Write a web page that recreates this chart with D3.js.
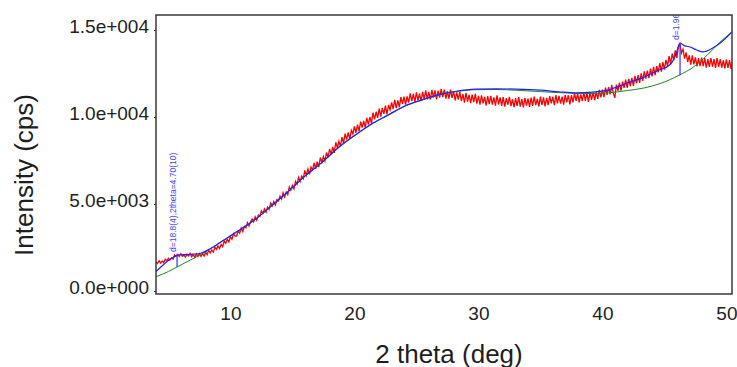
<!DOCTYPE html>
<html>
<head>
	<meta charset="utf-8">
	<title>xrd-pattern</title>
	<script type="text/javascript" src="https://cdnjs.cloudflare.com/ajax/libs/d3/7.8.5/d3.min.js"></script>
	<style type="text/css">
		body{ margin: 0; background-color: #fff; }
		svg{ display: block; font-family: "Liberation Sans", Arial, sans-serif; }
	</style>
</head>
<body>
	<div id="chart"></div>
	<script type="text/javascript">
		// measured pattern: 2theta starts at 4.000 deg, step 0.125 deg (one row = one degree)
		var obsStart = 4.0, obsStep = 0.125;
		var observed = [
			1660, 1585, 1740, 1605, 1720, 1635, 1820, 1745,
			1880, 1780, 1910, 1835, 2070, 1990, 2110, 1980,
			2140, 2000, 2070, 1950, 2120, 2020, 2160, 1970,
			2090, 1940, 2130, 1990, 2150, 1985, 2150, 2005,
			2220, 2090, 2350, 2195, 2360, 2235, 2520, 2395,
			2590, 2440, 2680, 2545, 2880, 2740, 2970, 2825,
			3120, 2980, 3290, 3150, 3150, 3445, 3330, 3620,
			3410, 3715, 3630, 3935, 3740, 3985, 4130, 3975,
			4260, 4075, 4370, 4285, 4610, 4465, 4720, 4535,
			4830, 4690, 5060, 4890, 5140, 4935, 5250, 5180,
			5450, 5280, 5650, 5400, 5680, 5535, 5990, 5790,
			6070, 5865, 6300, 6140, 6530, 6285, 6600, 6455,
			6930, 6650, 7010, 6710, 7120, 6955, 7360, 7020,
			7430, 7120, 7670, 7395, 7730, 7470, 7960, 7680,
			8170, 7840, 8280, 7935, 8550, 8230, 8610, 8315,
			8840, 8495, 9040, 8695, 9110, 8725, 9240, 9025,
			9460, 9095, 9560, 9180, 9730, 9395, 9780, 9400,
			9950, 9565, 10010, 9630, 10250, 9865, 10300, 9950,
			10480, 10020, 10510, 10180, 10660, 10170, 10690, 10410,
			10840, 10455, 10990, 10505, 10950, 10560, 11140, 10755,
			11170, 10705, 11190, 10825, 11360, 10915, 11330, 10875,
			11410, 10955, 11350, 10910, 11440, 11025, 11530, 11010,
			11450, 11005, 11560, 11110, 11530, 11015, 11520, 11120,
			11620, 11140, 11570, 11055, 11480, 11060, 11570, 11095,
			11480, 10950, 11410, 11005, 11440, 10920, 11310, 10820,
			11380, 10880, 11270, 10795, 11290, 10860, 11330, 10765,
			11210, 10705, 11250, 10785, 11160, 10660, 11200, 10735,
			11220, 10715, 11130, 10655, 11240, 10720, 11130, 10645,
			11140, 10595, 11090, 10705, 11160, 10620, 11020, 10565,
			11080, 10640, 11140, 10590, 11030, 10550, 11100, 10660,
			11050, 10575, 11120, 10645, 11170, 10680, 11040, 10605,
			11170, 10690, 11130, 10610, 11100, 10685, 11200, 10780,
			11160, 10685, 11260, 10780, 11220, 10765, 11170, 10715,
			11260, 10835, 11250, 10730, 11250, 10835, 11370, 10920,
			11340, 10845, 11300, 10920, 11410, 10925, 11370, 10865,
			11420, 10985, 11410, 10975, 11430, 11045, 11560, 11125,
			11580, 11140, 11690, 11270, 11720, 11295, 11840, 11380,
			11100, 11860, 11500, 11975, 11520, 12030, 11670, 12145,
			11680, 12190, 11780, 12245, 11790, 12370, 11940, 12405,
			11960, 12505, 12080, 12625, 12200, 12670, 12230, 12775,
			12340, 12880, 12400, 12930, 12560, 13100, 12610, 13160,
			12720, 13285, 12920, 13500, 13040, 13645, 13260, 13825,
			13400, 14020, 14200, 13670, 13900, 13350, 13710, 13160,
			13540, 13015, 13540, 13025, 13430, 12905, 13380, 12920,
			13420, 12925, 13390, 12840, 13320, 12875, 13390, 12895,
			13330, 12825, 13390, 12885, 13330, 12840, 13250, 12795,
			13310, 12820, 13270, 12765, 13200
		];

		// calculated profile (blue)
		var calcTheta = [4.0, 4.5, 5.0, 5.5, 5.7, 6.2, 7.0, 7.6, 8.3, 9.4, 10.5, 12.06, 13.4, 14.7, 16.0, 17.47,
			18.8, 20.13, 21.5, 22.8, 24.1, 25.5, 26.9, 28.2, 29.8, 31.5, 33.0, 35.0, 36.5, 37.8, 39.2, 40.5,
			41.8, 43.3, 44.4, 45.45, 45.9, 46.26, 46.6, 47.06, 47.6, 48.1, 48.9, 49.6, 50.45];
		var calcInt = [1110, 1450, 1750, 1980, 2070, 2090, 2120, 2170, 2400, 2900, 3400, 4150, 4950, 5750, 6600, 7450,
			8300, 9000, 9650, 10150, 10650, 11000, 11300, 11480, 11600, 11620, 11600, 11540, 11450, 11390, 11430, 11560,
			11900, 12280, 12650, 13000, 13550, 14250, 14100, 14020, 13850, 13740, 13970, 14310, 14890];

		// background (green)
		var bgTheta = [4.0, 4.5, 5.0, 5.7, 6.5, 7.5, 8.3, 9.4, 10.5, 12.06, 13.4, 14.7, 16.0, 17.47, 18.8, 20.13,
			21.5, 22.8, 24.1, 25.5, 26.9, 28.2, 29.8, 31.5, 33.0, 35.0, 36.5, 37.8, 39.2, 40.5, 42.0, 43.3,
			44.65, 46.18, 47.4, 48.44, 49.48, 50.45];
		var bgInt = [820, 960, 1120, 1380, 1680, 2050, 2380, 2880, 3380, 4130, 4930, 5730, 6580, 7430, 8280, 8980,
			9630, 10130, 10630, 10980, 11290, 11460, 11570, 11580, 11540, 11460, 11400, 11360, 11350, 11390, 11520, 11660,
			11920, 12400, 12900, 13550, 14300, 14890];

		// peak markers
		var peakTheta = [5.7, 46.26];
		var peakTop = [2070, 14250];
		var peakBase = [1380, 12400];
		var peakLabels = ["d=18.8(4),2theta=4.70(10)", "d=1.961(5),2theta=46.26(12)"];

		var xTicks = [10, 20, 30, 40, 50];
		var yTicks = [0, 5000, 10000, 15000];
		var xTitle = "2 theta (deg)", yTitle = "Intensity (cps)";

		var W = 737, H = 367;
		var plot = {left: 156, top: 15, right: 732, bottom: 294};

		var svg = d3.select('#chart').append('svg')
			.attr('width', W).attr('height', H);

		var x = d3.scaleLinear().domain([4, 50.45]).range([plot.left, plot.right]);
		var y = d3.scaleLinear().domain([-172, 15862]).range([plot.bottom, plot.top]);

		svg.append('defs').append('clipPath').attr('id', 'clip')
			.append('rect')
			.attr('x', plot.left).attr('y', plot.top)
			.attr('width', plot.right - plot.left).attr('height', plot.bottom - plot.top);

		var g = svg.append('g').attr('clip-path', 'url(#clip)');

		var obsData = observed.map(function(v, i){ return [obsStart + i*obsStep, v]; });
		var calcData = calcTheta.map(function(t, i){ return [t, calcInt[i]]; });
		var bgData = bgTheta.map(function(t, i){ return [t, bgInt[i]]; });

		var straight = d3.line().x(function(d){ return x(d[0]); }).y(function(d){ return y(d[1]); });
		var smooth = d3.line().curve(d3.curveMonotoneX)
			.x(function(d){ return x(d[0]); }).y(function(d){ return y(d[1]); });

		g.append('path').datum(obsData)
			.attr('d', straight)
			.attr('fill', 'none').attr('stroke', '#ff0000').attr('stroke-width', 1.3);

		g.append('path').datum(bgData)
			.attr('d', smooth)
			.attr('fill', 'none').attr('stroke', '#1a8a1a').attr('stroke-width', 1);

		g.append('path').datum(calcData)
			.attr('d', smooth)
			.attr('fill', 'none').attr('stroke', '#2020ff').attr('stroke-width', 1.2);

		// peak sticks and labels
		g.selectAll('line.peak').data(peakTheta).enter().append('line')
			.attr('class', 'peak')
			.attr('x1', function(d){ return x(d); }).attr('x2', function(d){ return x(d); })
			.attr('y1', function(d, i){ return y(peakTop[i]); })
			.attr('y2', function(d, i){ return y(peakBase[i]); })
			.attr('stroke', '#3030ff').attr('stroke-width', 1.2);

		g.selectAll('text.peak').data(peakTheta).enter().append('text')
			.attr('class', 'peak')
			.attr('transform', function(d, i){
				return 'translate(' + (x(d) - 1) + ',' + (y(peakTop[i]) - 3) + ') rotate(-90)';
			})
			.attr('font-size', '8.5px')
			.attr('fill', '#4646ff')
			.text(function(d, i){ return peakLabels[i]; });

		// frame
		svg.append('rect')
			.attr('x', plot.left).attr('y', plot.top)
			.attr('width', plot.right - plot.left).attr('height', plot.bottom - plot.top)
			.attr('fill', 'none').attr('stroke', '#3a3a3a').attr('stroke-width', 1.5);

		function sciFmt(v){
			var parts = v.toExponential(1).split('e');
			var e = parseInt(parts[1], 10);
			return parts[0] + 'e' + (e < 0 ? '-' : '+') + d3.format('03d')(Math.abs(e));
		}

		var yAxis = svg.append('g')
			.attr('transform', 'translate(' + plot.left + ',0)')
			.call(d3.axisLeft(y).tickValues(yTicks).tickSize(2).tickPadding(5).tickFormat(sciFmt));
		yAxis.select('.domain').remove();
		yAxis.selectAll('line').attr('stroke', '#333');
		yAxis.selectAll('text')
			.attr('font-family', '"Liberation Sans", Arial, sans-serif')
			.attr('font-size', '19px').attr('fill', '#222')
			.attr('dy', '0.11em');

		var xAxis = svg.append('g')
			.attr('transform', 'translate(0,' + plot.bottom + ')')
			.call(d3.axisBottom(x).tickValues(xTicks).tickSize(0).tickPadding(13));
		xAxis.select('.domain').remove();
		xAxis.selectAll('text')
			.attr('font-family', '"Liberation Sans", Arial, sans-serif')
			.attr('font-size', '19px').attr('fill', '#222');

		svg.append('text')
			.attr('x', (plot.left + plot.right) / 2 + 5).attr('y', 363)
			.attr('text-anchor', 'middle')
			.attr('font-size', '26px').attr('fill', '#1e1e1e')
			.text(xTitle);

		svg.append('text')
			.attr('transform', 'translate(33,175) rotate(-90)')
			.attr('text-anchor', 'middle')
			.attr('font-size', '26px').attr('fill', '#1e1e1e')
			.text(yTitle);
	</script>
</body>
</html>
